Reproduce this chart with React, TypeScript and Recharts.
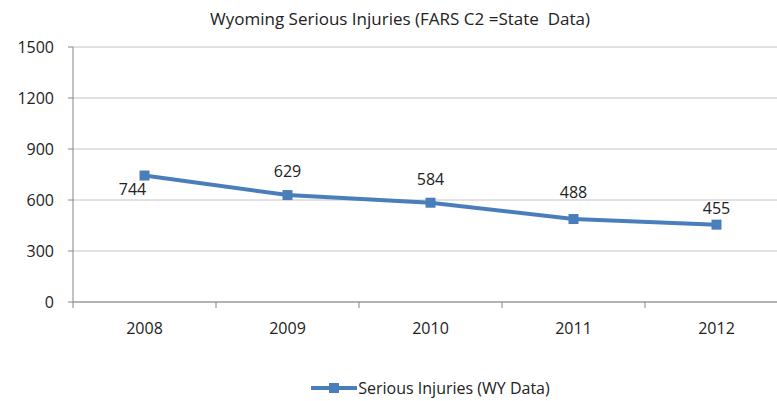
import { LineChart, Line, XAxis, YAxis, CartesianGrid, Legend, LabelList } from 'recharts';

const years = ['2008', '2009', '2010', '2011', '2012'];
const injuries = [744, 629, 584, 488, 455];
const yTicks = [0, 300, 600, 900, 1200, 1500];

// where Excel put each data label, relative to its point
const labelShift = [
  [-12, 13],
  [0, -24],
  [0, -24],
  [0, -27],
  [0, -17],
];

const data = years.map((year, i) => ({ year, value: injuries[i] }));

const W = 800;
const H = 401;
const LEFT = 73;
const RIGHT = 12;
const BAND = (W - LEFT - RIGHT) / years.length;
const BLUE = '#4A7EBB';
const FONT = '"Open Sans", sans-serif';

function SquareDot(props: any) {
  const { cx, cy } = props;
  if (cx == null || cy == null) return null;
  return <rect x={cx - 5} y={cy - 5} width={10} height={10} fill={BLUE} />;
}

function YearTick(props: any) {
  const { x, y, payload, index } = props;
  const axisY = y - 8;
  const half = BAND / 2;
  return (
    <g>
      <line x1={x - half} y1={axisY} x2={x - half} y2={axisY + 6} stroke="#868686" />
      {index === years.length - 1 && (
        <line x1={x + half} y1={axisY} x2={x + half} y2={axisY + 6} stroke="#868686" />
      )}
      <text
        x={x}
        y={axisY + 26}
        textAnchor="middle"
        dominantBaseline="central"
        fill="#222"
        style={{ fontSize: 16, fontFamily: FONT }}
      >
        {payload.value}
      </text>
    </g>
  );
}

function ValueLabel(props: any) {
  const { x, y, value, index } = props;
  const [dx, dy] = labelShift[index] || [0, -20];
  return (
    <text
      x={x + dx}
      y={y + dy}
      textAnchor="middle"
      dominantBaseline="central"
      fill="#222"
      style={{ fontSize: 16, fontFamily: FONT }}
    >
      {value}
    </text>
  );
}

function LegendBox() {
  return (
    <div style={{ display: 'flex', alignItems: 'center', justifyContent: 'center', height: 24, fontFamily: FONT, fontSize: 16, color: '#222' }}>
      <svg width={46} height={12} style={{ marginRight: 1 }}>
        <line x1={0} y1={6} x2={46} y2={6} stroke={BLUE} strokeWidth={4} />
        <rect x={18} y={1} width={10} height={10} fill={BLUE} />
      </svg>
      <span>Serious Injuries (WY Data)</span>
    </div>
  );
}

export default function App() {
  return (
    <div style={{ position: 'absolute', left: 0, top: 0, width: 777, height: H, overflow: 'hidden', background: '#fff' }}>
      <div style={{ position: 'absolute', top: 7, left: 0, width: W, textAlign: 'center', fontFamily: FONT, fontSize: 17, color: '#222' }}>
        Wyoming Serious Injuries (FARS C2 =State&nbsp; Data)
      </div>
      <LineChart width={W} height={H} data={data} margin={{ top: 47, right: RIGHT, bottom: 1, left: 13 }}>
        <CartesianGrid vertical={false} stroke="#c4c4c4" />
        <XAxis
          dataKey="year"
          padding={{ left: BAND / 2, right: BAND / 2 }}
          height={74}
          tickLine={false}
          stroke="#868686"
          tick={<YearTick />}
          interval={0}
        />
        <YAxis
          domain={[0, 1500]}
          ticks={yTicks}
          width={60}
          stroke="#868686"
          tickSize={5}
          tickMargin={14}
          tick={{ fill: '#222', fontSize: 16, fontFamily: FONT }}
        />
        <Legend verticalAlign="bottom" content={<LegendBox />} wrapperStyle={{ left: LEFT, width: W - LEFT - RIGHT }} />
        <Line
          dataKey="value"
          stroke={BLUE}
          strokeWidth={4}
          dot={<SquareDot />}
          activeDot={false}
          isAnimationActive={false}
        >
          <LabelList dataKey="value" content={<ValueLabel />} />
        </Line>
      </LineChart>
    </div>
  );
}
